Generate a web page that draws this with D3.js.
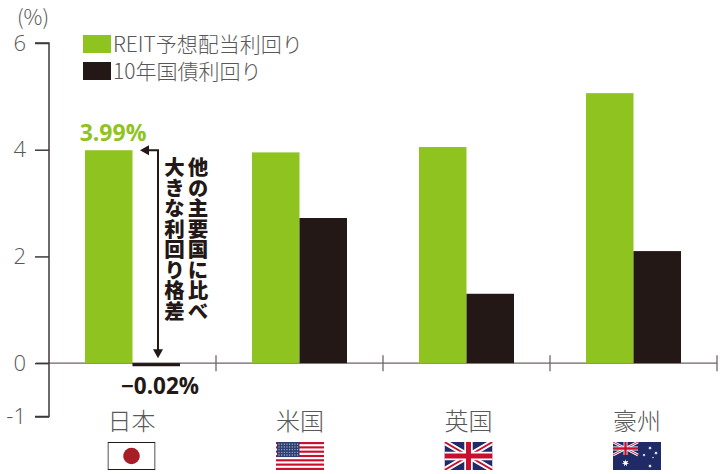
<!DOCTYPE html>
<html lang="ja">
<head>
<meta charset="utf-8">
<script src="https://cdn.jsdelivr.net/npm/d3@7"></script>
<style>
html,body{margin:0;padding:0;background:#fff}
svg{display:block}
text{font-family:"Noto Sans CJK JP","Noto Sans",sans-serif}
</style>
</head>
<body>
<div id="chart"></div>
<script>
const categories = ["日本", "米国", "英国", "豪州"];
const reitYield = [3.99, 3.95, 4.05, 5.06];
const bondYield = [-0.02, 2.72, 1.30, 2.10];
const seriesNames = ["REIT予想配当利回り", "10年国債利回り"];
const yTicks = [6, 4, 2, 0, -1];
const sideNote = ["他の主要国に比べ", "大きな利回り格差"];

const GREEN = "#8fc31f", DARK = "#231815", GREY = "#595757";
const RED = "#c8102e", NAVY = "#1f2a66";

const svg = d3.select("#chart").append("svg").attr("width", 722).attr("height", 474);

const y = d3.scaleLinear().domain([-1, 6]).range([416.5, 43]);
const x0 = d3.scaleBand().domain(categories).range([49, 717]);
const x1 = d3.scaleBand().domain([0, 1]).range([36, 131]);
// Names and flags sit on their own slightly wider spacing under the bands
const xLabel = d3.scalePoint().domain(categories).range([131.5, 637]);

// Horizontal zero line with band separators
svg.append("line").attr("x1", 36).attr("x2", 717).attr("y1", y(0)).attr("y2", y(0))
  .attr("stroke", "#6e6565").attr("stroke-width", 1.3);
svg.selectAll(".sep").data(categories).join("line")
  .attr("x1", d => x0(d) + x0.bandwidth()).attr("x2", d => x0(d) + x0.bandwidth())
  .attr("y1", y(0) - 8).attr("y2", y(0) + 8)
  .attr("stroke", "#6e6565").attr("stroke-width", 1.3);

// Bars
const barY = v => Math.min(y(v), y(0));
svg.selectAll(".reit").data(reitYield).join("rect")
  .attr("x", (d, i) => x0(categories[i]) + x1(0)).attr("width", x1.bandwidth())
  .attr("y", d => barY(d)).attr("height", d => Math.abs(y(d) - y(0)))
  .attr("fill", GREEN);
svg.selectAll(".bond").data(bondYield).join("rect")
  .attr("x", (d, i) => x0(categories[i]) + x1(1)).attr("width", x1.bandwidth())
  .attr("y", d => barY(d)).attr("height", d => Math.abs(y(d) - y(0)))
  .attr("fill", DARK);
// The negative Japanese yield is only a sliver, so it gets a heavier rule
svg.append("line")
  .attr("x1", x0(categories[0]) + x1(1)).attr("x2", x0(categories[0]) + x1(1) + x1.bandwidth())
  .attr("y1", y(bondYield[0]) + 0.6).attr("y2", y(bondYield[0]) + 0.6)
  .attr("stroke", DARK).attr("stroke-width", 2.8);

// Y axis
const yAxis = d3.axisLeft(y).tickValues(yTicks).tickSize(14).tickPadding(9).tickFormat(d => String(d));
const gy = svg.append("g").attr("transform", "translate(49,0)").call(yAxis);
gy.select(".domain").attr("stroke", "#3e3a39").attr("stroke-width", 1.5).attr("d", `M-14,${y(6)}H0V${y(-1)}H-14`);
gy.selectAll(".tick line").attr("stroke", "#3e3a39").attr("stroke-width", 1.5);
gy.selectAll(".tick text").attr("fill", GREY).attr("font-size", 22).attr("font-weight", 300)
  .style("font-family", '"Open Sans","Noto Sans",sans-serif');

svg.append("text").attr("x", 17).attr("y", 25).attr("fill", GREY).attr("font-size", 21).attr("font-weight", 300).text("(%)");

// Legend
[GREEN, DARK].forEach((c, i) => {
  const ly = 35 + i * 27;
  svg.append("rect").attr("x", 83).attr("y", ly).attr("width", 28).attr("height", 18).attr("fill", c);
  svg.append("text").attr("x", 113).attr("y", ly + 16.5).attr("fill", GREY)
    .attr("font-size", 21).attr("font-weight", 300).text(seriesNames[i]);
});

// Value labels
svg.append("text").attr("x", 113).attr("y", 141).attr("text-anchor", "middle").attr("fill", GREEN)
  .attr("font-size", 23).attr("font-weight", 700).style("font-family", '"Open Sans",sans-serif').text(d3.format(".2f")(reitYield[0]) + "%");
svg.append("text").attr("x", 160).attr("y", 394).attr("text-anchor", "middle").attr("fill", DARK)
  .attr("font-size", 22.5).attr("font-weight", 700).style("font-family", '"Open Sans",sans-serif').text("−" + d3.format(".2f")(Math.abs(bondYield[0])) + "%");

// Bracket arrow between the Japanese yields
svg.append("path").attr("fill", "none").attr("stroke", DARK).attr("stroke-width", 2)
  .attr("d", `M146,${y(reitYield[0])}H158V${y(0) - 13}`);
svg.append("path").attr("fill", DARK).attr("d", `M140,${y(reitYield[0])}l9,-5v10z`);
svg.append("path").attr("fill", DARK).attr("d", `M153,${y(0) - 14}h10l-5,9z`);

// Vertical annotation
sideNote.forEach((t, i) => {
  svg.append("text").attr("x", 198 - i * 23.5).attr("y", 157).attr("fill", DARK)
    .attr("font-size", 20.5).attr("font-weight", 900)
    .style("writing-mode", "vertical-rl").style("glyph-orientation-vertical", "0").text(t);
});

// Category names
svg.selectAll(".cat").data(categories).join("text")
  .attr("x", d => xLabel(d)).attr("y", 430)
  .attr("text-anchor", "middle").attr("fill", GREY).attr("font-size", 24).attr("font-weight", 300)
  .text(d => d);

// Flags, each 48x28 with the origin at the top-left corner
function clipped(g, id) {
  g.append("clipPath").attr("id", id).append("rect").attr("width", 48).attr("height", 28);
  return g.append("g").attr("clip-path", `url(#${id})`);
}
function drawJapan(g) {
  g.append("rect").attr("x", .5).attr("y", .5).attr("width", 47).attr("height", 27).attr("fill", "#fff").attr("stroke", DARK).attr("stroke-width", 1);
  g.append("circle").attr("cx", 24).attr("cy", 14).attr("r", 8.3).attr("fill", "#a81e27");
}
function drawUSA(g) {
  g.append("rect").attr("width", 48).attr("height", 28).attr("fill", "#fff");
  d3.range(0, 13, 2).forEach(i => g.append("rect").attr("y", i * 28 / 13).attr("width", 48).attr("height", 28 / 13).attr("fill", RED));
  g.append("rect").attr("x", 1).attr("width", 22.5).attr("height", 15).attr("fill", "#2d3f73");
  d3.range(5).forEach(r => d3.range(8).forEach(c =>
    g.append("circle").attr("cx", 3 + c * 2.65).attr("cy", 2.2 + r * 2.7).attr("r", .65).attr("fill", "#b8bfd4")));
}
function jack(g, w, h) {
  g.append("rect").attr("width", w).attr("height", h).attr("fill", NAVY);
  const diag = `M0,0L${w},${h}M${w},0L0,${h}`;
  g.append("path").attr("d", diag).attr("stroke", "#fff").attr("stroke-width", h * .2);
  g.append("path").attr("d", diag).attr("stroke", RED).attr("stroke-width", h * .07);
  const cross = `M${w / 2},0V${h}M0,${h / 2}H${w}`;
  g.append("path").attr("d", cross).attr("stroke", "#fff").attr("stroke-width", h * .3);
  g.append("path").attr("d", cross).attr("stroke", RED).attr("stroke-width", h * .18);
}
function star(g, cx, cy, r) {
  const pts = d3.range(14).map(i => {
    const a = i * Math.PI / 7, rr = i % 2 ? r * .45 : r;
    return [cx + rr * Math.sin(a), cy - rr * Math.cos(a)];
  });
  g.append("polygon").attr("points", pts.join(" ")).attr("fill", "#fff");
}
function drawUK(g) { jack(g, 48, 28); }
function drawAustralia(g) {
  g.append("rect").attr("width", 48).attr("height", 28).attr("fill", NAVY);
  jack(g.append("g"), 25, 13);
  star(g, 12.5, 21, 3.6);
  [[37, 6, 1.9], [31, 13, 1.6], [43, 11, 1.9], [37, 24, 1.9], [40, 15.5, 1]].forEach(s => star(g, ...s));
}
[drawJapan, drawUSA, drawUK, drawAustralia].forEach((draw, i) => {
  const g = svg.append("g").attr("transform", `translate(${xLabel(categories[i]) - 24},442)`);
  draw(clipped(g, "flag" + i));
});
</script>
</body>
</html>
